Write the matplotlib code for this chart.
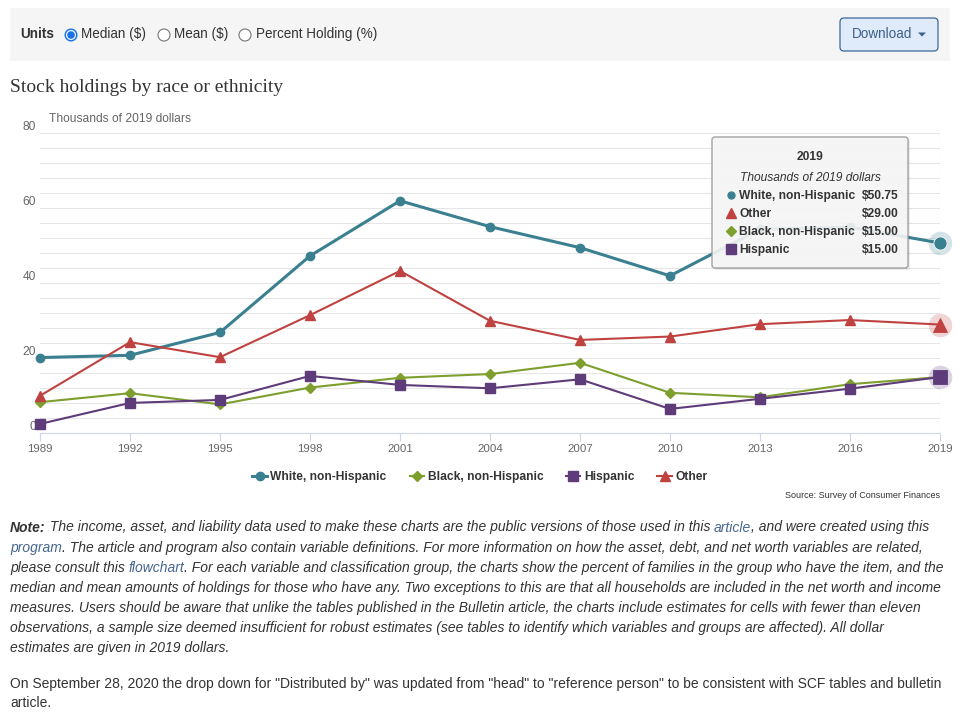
"""Stock holdings by race or ethnicity - SCF chart page recreation."""

import matplotlib
matplotlib.use('Agg')
import matplotlib.pyplot as plt
import matplotlib.ticker as mticker
from matplotlib.patches import Rectangle, FancyBboxPatch, Circle, Polygon

plt.rcParams['font.family'] = ['Liberation Sans', 'DejaVu Sans']

# ── Data (thousands of 2019 dollars, median) ──────────────────────────────────
years    = [1989, 1992, 1995, 1998, 2001, 2004, 2007, 2010, 2013, 2016, 2019]
white    = [20.2, 20.8, 26.9, 47.3, 62.0, 55.1, 49.5, 42.0, 54.4, 55.0, 50.75]
black    = [8.3, 10.7, 7.7, 12.2, 14.8, 15.8, 18.8, 10.8, 9.6, 13.1, 15.0]
hispanic = [2.5, 8.1, 8.9, 15.3, 12.9, 12.0, 14.4, 6.5, 9.2, 11.9, 15.0]
other    = [10.0, 24.3, 20.3, 31.5, 43.3, 30.0, 24.9, 25.8, 29.1, 30.2, 29.0]

series_names = ['White, non-Hispanic', 'Black, non-Hispanic', 'Hispanic', 'Other']

# ── Palette ───────────────────────────────────────────────────────────────────
TEAL   = '#3a8090'
GREEN  = '#7e9e2e'
PURPLE = '#5e3b79'
RED    = '#bf4240'
TXT    = '#333333'
AXTXT  = '#666666'
LINK   = '#44668f'

W, H = 965, 726
def fs(px):
    return px * 0.72

fig = plt.figure(figsize=(W / 100, H / 100), dpi=100, facecolor='white')
page = fig.add_axes([0, 0, 1, 1])
page.set_xlim(0, W)
page.set_ylim(H, 0)
page.axis('off')

# ── Top control bar ───────────────────────────────────────────────────────────
page.add_patch(Rectangle((10, 8), 940, 53, fc='#f5f5f5', ec='none'))
page.text(20, 34, 'Units', fontsize=fs(13.5), weight='bold', color=TXT, va='center')
page.add_patch(Circle((71, 35), 6.5, fc='#1a73e8', ec='none'))
page.add_patch(Circle((71, 35), 5.0, fc='white', ec='none'))
page.add_patch(Circle((71, 35), 3.8, fc='#1a73e8', ec='none'))
for cx in (164, 245):
    page.add_patch(Circle((cx, 35), 6, fc='white', ec='#767676', lw=0.8))
page.text(81, 34, 'Median ($)', fontsize=fs(13.5), color=TXT, va='center')
page.text(174, 34, 'Mean ($)', fontsize=fs(13.5), color=TXT, va='center')
page.text(256, 34, 'Percent Holding (%)', fontsize=fs(13.5), color=TXT, va='center')

page.add_patch(FancyBboxPatch((840, 18), 98, 33,
                              boxstyle='round,pad=0,rounding_size=4',
                              fc='#dfeafa', ec='#3c6898', lw=0.9))
page.text(852, 34, 'Download', fontsize=fs(13.5), color='#3d6087', va='center')
page.add_patch(Polygon([(918, 32.5), (926, 32.5), (922, 36.5)], closed=True,
                       fc='#3d6087', ec='none'))

# ── Titles ────────────────────────────────────────────────────────────────────
page.text(10, 87, 'Stock holdings by race or ethnicity', family='Liberation Serif',
          fontsize=fs(19.5), color=TXT, va='center')
page.text(49, 119, 'Thousands of 2019 dollars', fontsize=fs(12), color=AXTXT, va='center')

# ── Chart ─────────────────────────────────────────────────────────────────────
L, R, T, B = 40, 940, 133.3, 433.3
ax = fig.add_axes([L / W, 1 - B / H, (R - L) / W, (B - T) / H])
ax.set_facecolor('none')
ax.set_zorder(2)
ax.set_xlim(1989, 2019)
ax.set_ylim(0, 80)
for s in ('top', 'right', 'left'):
    ax.spines[s].set_visible(False)
ax.spines['bottom'].set_color('#ccd6eb')
ax.spines['bottom'].set_linewidth(0.8)

ax.set_xticks(years)
ax.tick_params(axis='x', length=6, width=0.8, color='#ccd6eb', labelcolor=AXTXT,
               labelsize=fs(11.5), pad=2)
ax.yaxis.set_major_locator(mticker.MultipleLocator(20))
ax.yaxis.set_minor_locator(mticker.MultipleLocator(4))
ax.tick_params(axis='y', which='both', length=0, labelcolor=AXTXT,
               labelsize=fs(12), pad=3)
for lab in ax.get_yticklabels():
    lab.set_verticalalignment('bottom')
ax.grid(which='both', axis='y', color='#e6e6e6', lw=0.75)
ax.set_axisbelow(True)

ax.axvline(2019, color='#cccccc', lw=0.8, zorder=1)

l_white, = ax.plot(years, white, color=TEAL, lw=2.2, marker='o', ms=6,
                   clip_on=False, zorder=4)
l_black, = ax.plot(years, black, color=GREEN, lw=1.5, marker='D', ms=5,
                   clip_on=False, zorder=4)
l_hisp, = ax.plot(years, hispanic, color=PURPLE, lw=1.5, marker='s', ms=6.5,
                  clip_on=False, zorder=4)
l_other, = ax.plot(years, other, color=RED, lw=1.5, marker='^', ms=7,
                   clip_on=False, zorder=4)

# hover halos on the last point
for vals, col, mk, ms in [(white, TEAL, 'o', 9.5), (other, RED, '^', 10),
                          (hispanic, PURPLE, 's', 10)]:
    ax.plot([years[-1]], [vals[-1]], marker='o', ms=17, color=col, alpha=0.22,
            mec='none', clip_on=False, zorder=5)
    ax.plot([years[-1]], [vals[-1]], marker=mk, ms=ms, color=col,
            mec='white' if mk == 'o' else col, mew=0.6, clip_on=False, zorder=6)

# ── Legend ────────────────────────────────────────────────────────────────────
fig.legend([l_white, l_black, l_hisp, l_other], series_names,
           loc='center', bbox_to_anchor=(480 / W, 1 - 477 / H),
           ncol=4, frameon=False, handlelength=1.2, handletextpad=0.3,
           columnspacing=1.9, prop=dict(weight='bold', size=fs(12)),
           labelcolor=TXT)

page.text(940, 495, 'Source: Survey of Consumer Finances', ha='right', va='center',
          fontsize=fs(9), color=TXT)

# ── Tooltip ───────────────────────────────────────────────────────────────────
ov = fig.add_axes([0, 0, 1, 1])
ov.set_xlim(0, W)
ov.set_ylim(H, 0)
ov.axis('off')
ov.set_zorder(5)
ov.add_patch(FancyBboxPatch((714, 139), 196, 131, boxstyle='round,pad=0,rounding_size=3',
                            fc='#000000', alpha=0.08, ec='none'))
ov.add_patch(FancyBboxPatch((712, 137), 196, 131, boxstyle='round,pad=0,rounding_size=3',
                            fc='#f7f7f7', alpha=0.9, ec='#999999', lw=1.0))
ov.text(810, 157, str(years[-1]), ha='center', va='center', weight='bold',
        fontsize=fs(12), color=TXT)
ov.text(810, 178, 'Thousands of 2019 dollars', ha='center', va='center',
        style='italic', fontsize=fs(12), color=TXT)
rows = [('White, non-Hispanic', white[-1], TEAL, 'o', 5),
        ('Other', other[-1], RED, '^', 6.5),
        ('Black, non-Hispanic', black[-1], GREEN, 'D', 5),
        ('Hispanic', hispanic[-1], PURPLE, 's', 6.5)]
for k, (name, val, col, mk, ms) in enumerate(rows):
    yy = 196 + 18 * k
    ov.plot([731], [yy - 1], marker=mk, ms=ms, color=col, mec=col, ls='none')
    ov.text(739, yy, name, va='center', weight='bold', fontsize=fs(12), color=TXT)
    ov.text(899, yy, f'${val:.2f}', ha='right', va='center', weight='bold',
            fontsize=fs(12), color=TXT)

# ── Note text ─────────────────────────────────────────────────────────────────
renderer = fig.canvas.get_renderer()

def text_width(txt, **kw):
    a = page.text(0, 0, '|' + txt + '|', **kw)
    b = page.text(0, 0, '||', **kw)
    w = a.get_window_extent(renderer).width - b.get_window_extent(renderer).width
    a.remove()
    b.remove()
    return w

def draw_runs(x, y, parts, size, style):
    for txt, col, weight in parts:
        kw = dict(fontsize=size, color=col, weight=weight, style=style)
        page.text(x, y, txt, va='center', **kw)
        x += text_width(txt, **kw)

note_lines = [
    [('Note:', TXT, 'bold'),
     (' The income, asset, and liability data used to make these charts are the public '
      'versions of those used in this ', TXT, 'normal'),
     ('article', LINK, 'normal'), (', and were created using this', TXT, 'normal')],
    [('program', LINK, 'normal'),
     ('. The article and program also contain variable definitions. For more information '
      'on how the asset, debt, and net worth variables are related,', TXT, 'normal')],
    [('please consult this ', TXT, 'normal'), ('flowchart', LINK, 'normal'),
     ('. For each variable and classification group, the charts show the percent of '
      'families in the group who have the item, and the', TXT, 'normal')],
    [('median and mean amounts of holdings for those who have any. Two exceptions to this '
      'are that all households are included in the net worth and income', TXT, 'normal')],
    [('measures. Users should be aware that unlike the tables published in the Bulletin '
      'article, the charts include estimates for cells with fewer than eleven', TXT, 'normal')],
    [('observations, a sample size deemed insufficient for robust estimates (see tables to '
      'identify which variables and groups are affected). All dollar', TXT, 'normal')],
    [('estimates are given in 2019 dollars.', TXT, 'normal')],
]
ref = note_lines[3][0][0]
note_size = 10 * 927 / text_width(ref, fontsize=10, style='italic')
for k, parts in enumerate(note_lines):
    draw_runs(10, 527.5 + 20.1 * k, parts, note_size, 'italic')

p2 = ('On September 28, 2020 the drop down for "Distributed by" was updated from "head" '
      'to "reference person" to be consistent with SCF tables and bulletin')
p2_size = 10 * 935 / text_width(p2, fontsize=10)
page.text(10, 684, p2, fontsize=p2_size, color=TXT, va='center')
page.text(10, 703, 'article.', fontsize=p2_size, color=TXT, va='center')

fig.savefig('out.png', dpi=100, facecolor='white')
